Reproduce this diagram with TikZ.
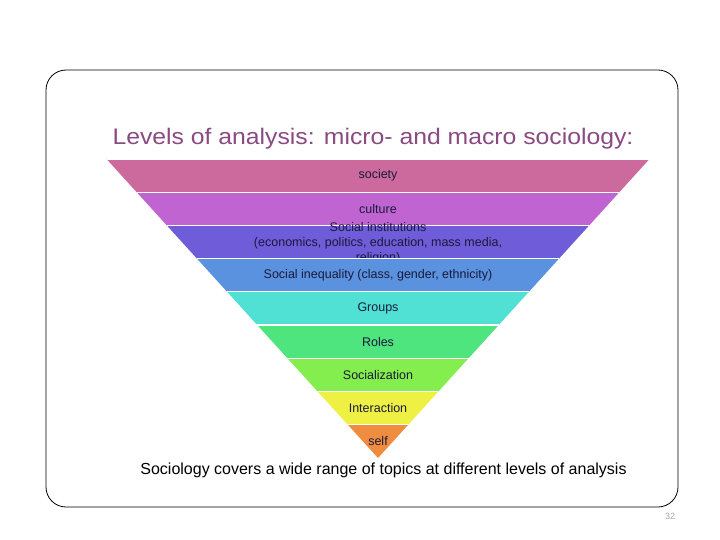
\documentclass[tikz,border=0pt]{standalone}
\usepackage{fontspec}
\setmainfont{Liberation Sans}
\definecolor{titlec}{HTML}{8A4A82}
\definecolor{bandtxt}{HTML}{1A1A3A}
\definecolor{c1}{HTML}{CC6A9E}
\definecolor{c2}{HTML}{C064D2}
\definecolor{c3}{HTML}{6E5CD8}
\definecolor{c4}{HTML}{5A92E0}
\definecolor{c5}{HTML}{50E0D4}
\definecolor{c6}{HTML}{4EE47E}
\definecolor{c7}{HTML}{84EE4E}
\definecolor{c8}{HTML}{EEF044}
\definecolor{c9}{HTML}{F08C40}
\begin{document}
\begin{tikzpicture}[x=1pt,y=-1pt,
  btext/.style={text=bandtxt,font=\fontsize{12.5}{15}\selectfont,inner sep=0pt,align=center}]
\useasboundingbox (0,0) rectangle (720,540);
\fill[white] (0,0) rectangle (720,540);
\draw[line width=0.8pt,rounded corners=20pt] (46,70) rectangle (678,507);
\node[text=titlec,font=\fontsize{22.5}{26}\selectfont\addfontfeatures{FakeStretch=1.1},inner sep=0pt] (title) at (373,139) {Levels of analysis: micro- and macro sociology:};
% bands: top y=159, step 33.2, apex (378,458)
\def\cx{378}
\foreach \i/\col/\lab in {0/c1/society,1/c2/culture,2/c3/{},3/c4/{Social inequality (class, gender, ethnicity)},4/c5/Groups,5/c6/Roles,6/c7/Socialization,7/c8/Interaction,8/c9/self}{
  \pgfmathsetmacro\ya{159+33.2*\i}
  \pgfmathsetmacro\yb{159+33.2*(\i+1)}
  \pgfmathsetmacro\wa{(458-\ya)*0.908}
  \pgfmathsetmacro\wb{(458-\yb)*0.908}
  \fill[\col] (\cx-\wa,\ya) -- (\cx+\wa,\ya) -- (\cx+\wb,\yb) -- (\cx-\wb,\yb) -- cycle;
  \draw[white,line width=1.2pt] (\cx-\wa,\ya) -- (\cx+\wa,\ya);
  \pgfmathsetmacro\ym{(\ya+\yb)/2}
  \ifnum\i=2
    \node[btext] (inst) at (\cx,\ym+1.5) {Social institutions\\(economics, politics, education, mass media,\\religion)};
  \else
    \node[btext] (b\i) at (\cx,\ym) {\lab};
  \fi
}
\node[text=black,font=\fontsize{16}{19}\selectfont,inner sep=0pt] (cap) at (383.5,470) {Sociology covers a wide range of topics at different levels of analysis};
\node[text=black!35,font=\fontsize{9}{10}\selectfont,inner sep=0pt] (pg) at (670,516) {32};
\end{tikzpicture}
\end{document}
